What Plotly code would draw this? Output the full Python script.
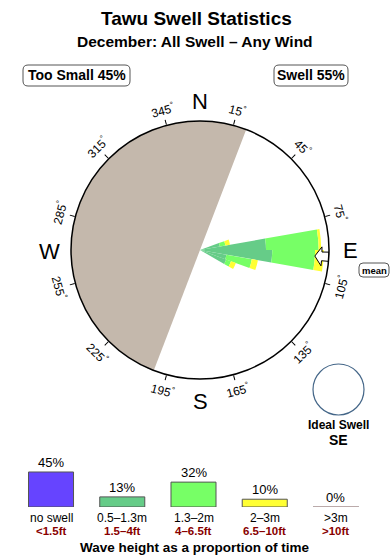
import math
import plotly.graph_objects as go

W, H = 390, 560
FONT = "Liberation Sans, Arial, Helvetica, sans-serif"

# ---------------- data ----------------
title = "Tawu Swell Statistics"
subtitle = "December: All Swell \u2013 Any Wind"
too_small_pct = 45
swell_pct = 55

# swell rose: direction sectors (deg, centre) and % of time per height band
sector_dirs = [75, 85, 95, 105, 115]
sector_width = 10
rose_05_13 = [3.9, 12.8, 14.0, 5.2, 5.4]     # 0.5-1.3m
rose_13_2 = [1.1, 10.2, 8.3, 5.0, 1.0]       # 1.3-2m
rose_2_3 = [0.9, 0.5, 1.7, 1.2, 1.0]         # 2-3m
rose_max = 25
shadow_center = 291      # sheltered (blocked) half
shadow_width = 180
mean_dir = 93
ideal_swell = "SE"
tick_dirs = [15, 45, 75, 105, 135, 165, 195, 225, 255, 285, 315, 345]
compass = {"N": 0, "E": 90, "S": 180, "W": 270}

# legend bars
bins = ["no swell", "0.5\u20131.3m", "1.3\u20132m", "2\u20133m", "&gt;3m"]
bins_ft = ["&lt;1.5ft", "1.5\u20134ft", "4\u20136.5ft", "6.5\u201310ft", "&gt;10ft"]
bin_pct = [45, 13, 32, 10, 0]
bin_colors = ["#6644ff", "#66cc88", "#77ff66", "#ffff33", "#bbaaaa"]

# ---------------- layout geometry (pixels) ----------------
CX, CY, R = 200, 250, 129


def px(x, y):
    return x / W, 1 - y / H


fig = go.Figure()

# sheltered half disc
fig.add_trace(go.Barpolar(r=[rose_max], theta=[shadow_center], width=[shadow_width],
                          marker=dict(color="#c4b8ac", line=dict(width=0)),
                          hoverinfo="skip", showlegend=False))
for vals, col in [(rose_05_13, bin_colors[1]), (rose_13_2, bin_colors[2]), (rose_2_3, bin_colors[3])]:
    fig.add_trace(go.Barpolar(r=vals, theta=sector_dirs, width=[sector_width] * len(vals),
                              marker=dict(color=col, line=dict(width=0)),
                              showlegend=False))

# mean direction arrow (pointing inward)
u = rose_max / R  # radial units per pixel
r_tip, r_head = rose_max - 14 * u, rose_max - 7 * u
hw = math.degrees(9.5 / (R - 7))
sw = math.degrees(4.5 / (R - 3))
fig.add_trace(go.Scatterpolar(
    r=[rose_max, r_head, r_head, r_tip, r_head, r_head, rose_max, rose_max],
    theta=[mean_dir - sw, mean_dir - sw, mean_dir - hw, mean_dir, mean_dir + hw,
           mean_dir + sw, mean_dir + sw, mean_dir - sw],
    mode="lines", fill="toself", fillcolor="white",
    line=dict(color="black", width=1), showlegend=False, hoverinfo="skip"))

# legend bars
fig.add_trace(go.Bar(x=list(range(len(bins))), y=bin_pct, width=0.632,
                     marker=dict(color=bin_colors, line=dict(color="#555555", width=1)),
                     showlegend=False, hoverinfo="skip"))
for i, p in enumerate(bin_pct):
    if p == 0:
        fig.add_trace(go.Scatter(x=[i - 0.316, i + 0.316], y=[p, p], mode="lines",
                                 line=dict(color=bin_colors[i], width=2),
                                 showlegend=False, hoverinfo="skip"))

ann = []


def text(x, y, s, size, bold=False, color="black", angle=0):
    xx, yy = px(x, y)
    ann.append(dict(x=xx, y=yy, xref="paper", yref="paper", text=("<b>%s</b>" % s) if bold else s,
                    showarrow=False, xanchor="center", yanchor="middle", textangle=angle,
                    font=dict(family=FONT, size=size, color=color)))


text(196, 18, title, 19, bold=True)
text(195, 42, subtitle, 15.5, bold=True)
text(76.5, 75.5, "Too Small %d%%" % too_small_pct, 14, bold=True)
text(311, 75.5, "Swell %d%%" % swell_pct, 14, bold=True)
text(374, 270, "mean", 9.5, bold=True)
text(338, 425, "Ideal Swell", 12, bold=True)
text(338.5, 440, ideal_swell, 14, bold=True)

for lab, b in compass.items():
    a = math.radians(b)
    text(CX + 150 * math.sin(a), CY - 150 * math.cos(a) + 1, lab, 22)

for b in tick_dirs:
    a = math.radians(b)
    ang = b if b <= 90 else (b - 180 if b < 270 else b - 360)
    text(CX + 145 * math.sin(a), CY - 145 * math.cos(a), "%d<sup>\u00b0</sup>" % b, 12, angle=ang)

for i, p in enumerate(bin_pct):
    ann.append(dict(x=i, y=p, xref="x", yref="y", text="%d%%" % p, showarrow=False,
                    xanchor="center", yanchor="bottom", yshift=0,
                    font=dict(family=FONT, size=13, color="black")))
    xx = (15.4 + (i + 0.5) * 71.24) / W
    ann.append(dict(x=xx, y=px(0, 517.5)[1], xref="paper", yref="paper", text=bins[i],
                    showarrow=False, xanchor="center", yanchor="middle",
                    font=dict(family=FONT, size=12, color="black")))
    ann.append(dict(x=xx, y=px(0, 530.5)[1], xref="paper", yref="paper", text="<b>%s</b>" % bins_ft[i],
                    showarrow=False, xanchor="center", yanchor="middle",
                    font=dict(family=FONT, size=11.5, color="#880000")))
text(195, 547, "Wave height as a proportion of time", 13.5, bold=True)


def rrect(x0, y0, x1, y1, r=5, color="#555555"):
    a0, b0 = px(x0, y0)
    a1, b1 = px(x1, y1)
    rx, ry = r / W, r / H
    path = (f"M{a0+rx},{b0} L{a1-rx},{b0} Q{a1},{b0} {a1},{b0-ry} L{a1},{b1+ry} Q{a1},{b1} {a1-rx},{b1} "
            f"L{a0+rx},{b1} Q{a0},{b1} {a0},{b1+ry} L{a0},{b0-ry} Q{a0},{b0} {a0+rx},{b0} Z")
    return dict(type="path", xref="paper", yref="paper", path=path,
                line=dict(color=color, width=1), fillcolor="rgba(0,0,0,0)")


shapes = [rrect(23, 65, 130, 86), rrect(274, 65, 348, 86), rrect(359, 263, 389, 277, r=4)]
c0 = px(338.5 - 25.5, 389.5 - 25.5)
c1 = px(338.5 + 25.5, 389.5 + 25.5)
shapes.append(dict(type="circle", xref="paper", yref="paper", x0=c0[0], y0=c1[1], x1=c1[0], y1=c0[1],
                   line=dict(color="#446688", width=1.2), fillcolor="white"))

base = 53 / H
fig.update_layout(
    width=W, height=H, margin=dict(l=0, r=0, t=0, b=0),
    paper_bgcolor="white", plot_bgcolor="rgba(0,0,0,0)",
    showlegend=False,
    polar=dict(
        domain=dict(x=[(CX - R) / W, (CX + R) / W], y=[1 - (CY + R) / H, 1 - (CY - R) / H]),
        bgcolor="white", barmode="stack", bargap=0, hole=0,
        angularaxis=dict(rotation=90, direction="clockwise", tickmode="array", tickvals=tick_dirs,
                         ticks="outside", ticklen=5, tickwidth=1, tickcolor="black",
                         showticklabels=False, showline=True, linecolor="black", linewidth=1.5,
                         showgrid=False),
        radialaxis=dict(visible=False, range=[0, rose_max]),
    ),
    xaxis=dict(domain=[15.4 / W, 371.6 / W], range=[-0.5, 4.5], visible=False, fixedrange=True),
    yaxis=dict(domain=[base, base + 50 * 0.7778 / H], range=[0, 50], visible=False, fixedrange=True),
    annotations=ann, shapes=shapes,
)

fig.write_html("out.html")
